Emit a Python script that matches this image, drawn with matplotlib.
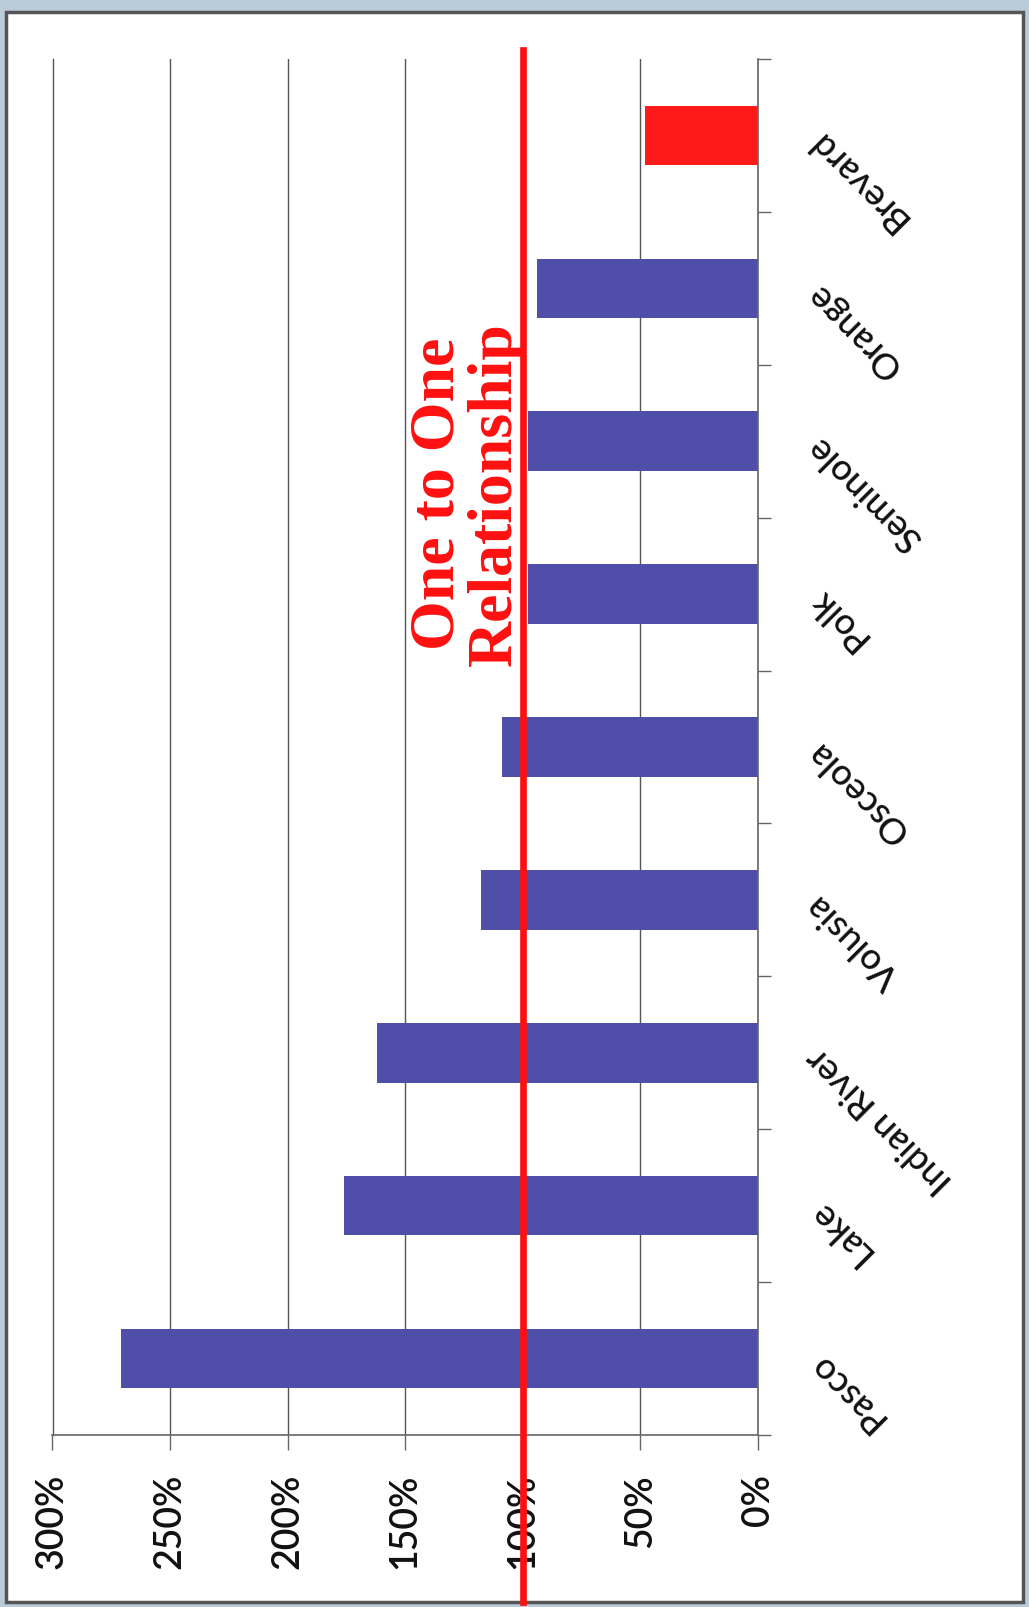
import matplotlib.pyplot as plt
import matplotlib.transforms as mtransforms
from matplotlib.patches import Rectangle
import numpy as np

# data (bottom -> top as seen in the rotated scan)
counties = ["Pasco", "Lake", "Indian River", "Volusia", "Osceola",
            "Polk", "Seminole", "Orange", "Brevard"]
ratio_pct = [271, 176, 162, 118, 109, 98, 98, 94, 48]
bar_colors = ["#4F4FAA"] * 8 + ["#FF1A1A"]
value_ticks = [0, 50, 100, 150, 200, 250, 300]
one_to_one = 100

plt.rcParams['font.family'] = ['Lato', 'DejaVu Sans']

fig = plt.figure(figsize=(10.29, 16.07), dpi=100)
fig.patch.set_facecolor("#BACBDA")
# scanned page frame
fig.patches.append(Rectangle((6 / 1029, 1 - 1602 / 1607), 1017 / 1029, 1590 / 1607,
                             transform=fig.transFigure, facecolor="white",
                             edgecolor="#555555", linewidth=2.5, zorder=-10))

ax = fig.add_axes([52.5 / 1029, 1 - 1435 / 1607, (758 - 52.5) / 1029, (1435 - 59) / 1607])
ax.set_facecolor("none")

y = np.arange(len(counties))
ax.barh(y, ratio_pct, height=0.39, color=bar_colors, zorder=2)

ax.set_xlim(300, 0)
ax.set_ylim(-0.5, len(counties) - 0.5)

# value axis (bottom)
ax.set_xticks(value_ticks)
ax.set_xticklabels([f"{v}%" for v in value_ticks], rotation=90, fontsize=27,
                   fontweight="semibold", color="#111111")
ax.tick_params(axis="x", direction="out", length=11, width=1, color="#666666", pad=17)
ax.grid(axis="x", color="#555555", linewidth=1, zorder=1)

# category axis (right side, ticks between categories)
ax.yaxis.tick_right()
ax.set_yticks(y)
ax.set_yticklabels([])
ax.tick_params(axis="y", which="major", length=0)
ax.set_yticks(np.arange(-0.5, len(counties)), minor=True)
ax.tick_params(axis="y", which="minor", direction="out", length=9, width=1, color="#666666")
for i, name in enumerate(counties):
    ax.annotate(name, xy=(1, i), xycoords=("axes fraction", "data"),
                xytext=(39, 0), textcoords="offset points",
                rotation=135, rotation_mode="anchor", ha="right", va="center",
                fontsize=26, fontweight="medium", color="#111111")

ax.spines["top"].set_visible(False)
ax.spines["left"].set_color("#555555")
ax.spines["left"].set_linewidth(1)
for side in ["bottom", "right"]:
    ax.spines[side].set_color("#666666")
    ax.spines[side].set_linewidth(1.2)

# one to one reference line
trans = mtransforms.blended_transform_factory(ax.transData, fig.transFigure)
ax.plot([one_to_one, one_to_one], [1 - 1602 / 1607, 1 - 50 / 1607], transform=trans,
        color="#FF1010", linewidth=4.8, clip_on=False, zorder=10)

fig.text(467 / 1029, 1 - 494 / 1607, "One to One\nRelationship", rotation=90,
         ha="center", va="center", multialignment="center", linespacing=1.0,
         fontsize=46, fontweight="bold", color="#FF1010", family="Liberation Serif")

plt.savefig("out.png", dpi=100, facecolor=fig.get_facecolor())
plt.close()
